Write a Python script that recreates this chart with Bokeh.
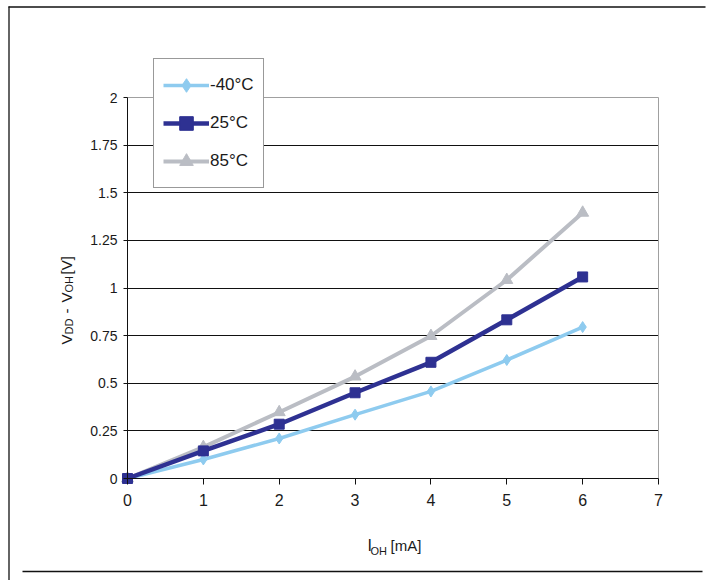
import math
from bokeh.plotting import figure
from bokeh.models import (FixedTicker, Legend, LegendItem, Label, PolyAnnotation,
                          Range1d, LinearAxis, Grid)
from bokeh.embed import file_html
from bokeh.resources import INLINE

# ---- data ----
i_oh_ma = [0, 1, 2, 3, 4, 5, 6]
v_m40 = [0, 0.10, 0.21, 0.335, 0.457, 0.622, 0.795]
v_25 = [0, 0.145, 0.285, 0.45, 0.61, 0.833, 1.058]
v_85 = [0, 0.165, 0.348, 0.535, 0.748, 1.042, 1.395]
series_names = ["-40\u00b0C", "25\u00b0C", "85\u00b0C"]
x_ticks = [0, 1, 2, 3, 4, 5, 6, 7]
y_ticks = [0, 0.25, 0.5, 0.75, 1, 1.25, 1.5, 1.75, 2]
y_tick_labels = ["0", "0.25", "0.5", "0.75", "1", "1.25", "1.5", "1.75", "2"]

FONT = "'Liberation Sans', Arial, sans-serif"
TXT = "#1a1a1a"

W, H = 707, 580
# plot-area placement on the page (pixels)
X0_PX, X7_PX = 127.0, 658.0
Y0_PX, Y2_PX = 478.0, 97.0
SX = (X7_PX - X0_PX) / 7.0
SY = (Y0_PX - Y2_PX) / 2.0


def px_x(px):
    return (px - X0_PX) / SX


def px_y(py):
    return (Y0_PX - py) / SY


p = figure(width=W, height=H,
           x_range=Range1d(px_x(0), px_x(W)), y_range=Range1d(px_y(H), px_y(0)),
           output_backend="svg", toolbar_location=None,
           x_axis_location=None, y_axis_location=None,
           min_border=0, min_border_left=0, min_border_right=0,
           min_border_top=0, min_border_bottom=0)
p.background_fill_color = "white"
p.border_fill_color = "white"
p.outline_line_color = None
p.grid.visible = False

XB = (x_ticks[0], x_ticks[-1])
YB = (y_ticks[0], y_ticks[-1])
# grid lines
p.add_layout(Grid(dimension=1, ticker=FixedTicker(ticks=y_ticks[1:-1]), cross_bounds=XB,
                  grid_line_color="#111111", grid_line_width=1))
p.add_layout(Grid(dimension=1, ticker=FixedTicker(ticks=[y_ticks[-1]]), cross_bounds=XB,
                  grid_line_color="#a0a0a0", grid_line_width=1))
p.add_layout(Grid(dimension=0, ticker=FixedTicker(ticks=[x_ticks[-1]]), cross_bounds=YB,
                  grid_line_color="#a0a0a0", grid_line_width=1))

# axes
xax = LinearAxis(fixed_location=0, bounds=XB, ticker=FixedTicker(ticks=x_ticks))
yax = LinearAxis(fixed_location=0, bounds=YB, ticker=FixedTicker(ticks=y_ticks))
yax.major_label_overrides = {t: l for t, l in zip(y_ticks, y_tick_labels)}
for ax in (xax, yax):
    ax.axis_line_color = "#111111"
    ax.axis_line_width = 1
    ax.major_tick_line_color = "#111111"
    ax.major_tick_in = 0
    ax.minor_tick_line_color = None
    ax.major_label_text_font = FONT
    ax.major_label_text_color = TXT
xax.major_tick_out = 6
xax.major_label_standoff = 9
xax.major_label_text_font_size = "16px"
yax.major_tick_out = 4
yax.major_label_standoff = 6
yax.major_label_text_font_size = "14px"
p.add_layout(xax, "below")
p.add_layout(yax, "left")

# series
c_m40, c_25, c_85 = "#8ecbef", "#2e3192", "#babdc4"
l1 = p.line(i_oh_ma, v_m40, line_color=c_m40, line_width=3.5)
m1 = p.scatter(i_oh_ma, v_m40, marker="diamond", size=11, color=c_m40)
l3 = p.line(i_oh_ma, v_85, line_color=c_85, line_width=4)
m3 = p.scatter(i_oh_ma, v_85, marker="triangle", size=12, color=c_85)
l2 = p.line(i_oh_ma, v_25, line_color=c_25, line_width=4.5)
m2 = p.scatter(i_oh_ma, v_25, marker="square", size=10, color=c_25)

legend = Legend(items=[LegendItem(label=series_names[0], renderers=[l1, m1]),
                       LegendItem(label=series_names[1], renderers=[l2, m2]),
                       LegendItem(label=series_names[2], renderers=[l3, m3])],
                location=(153, H - 188), margin=0, padding=9, spacing=4,
                glyph_width=46, glyph_height=34, label_height=34,
                label_standoff=1, label_text_font=FONT, label_text_font_size="17px",
                label_text_color=TXT, border_line_color="#333333", border_line_width=1,
                background_fill_color="white", background_fill_alpha=1.0)
p.add_layout(legend, "center")

# page frame lines (layout decoration)
for xs, ys in [([px_x(8), px_x(705)], [px_y(6.5), px_y(6.5)]),
               ([px_x(8.5), px_x(8.5)], [px_y(6), px_y(580)]),
               ([px_x(22), px_x(702)], [px_y(571), px_y(571)])]:
    p.add_layout(PolyAnnotation(xs=xs, ys=ys, fill_alpha=0, line_color="#111111",
                                line_alpha=1.0, line_width=1.3))


# axis titles composed of text pieces (page coordinates converted)
def lab(text, pxx, pyy, size, angle=0.0):
    p.add_layout(Label(x=px_x(pxx), y=px_y(pyy), text=text, angle=angle,
                       text_font=FONT, text_font_size=size, text_color=TXT,
                       text_align="left", text_baseline="alphabetic"))


lab("I", 367, 545, "16px")
lab("OH", 370, 550, "11px")
lab("[mA]", 390, 545, "15px")

A = math.pi / 2
lab("V", 66, 344, "15px", A)
lab("DD", 68, 334, "11px", A)
lab("-", 66, 313, "15px", A)
lab("V", 66, 302, "15px", A)
lab("OH", 68, 292, "11px", A)
lab("[V]", 66, 274, "15px", A)

open("out.html", "w").write(file_html(p, INLINE))
